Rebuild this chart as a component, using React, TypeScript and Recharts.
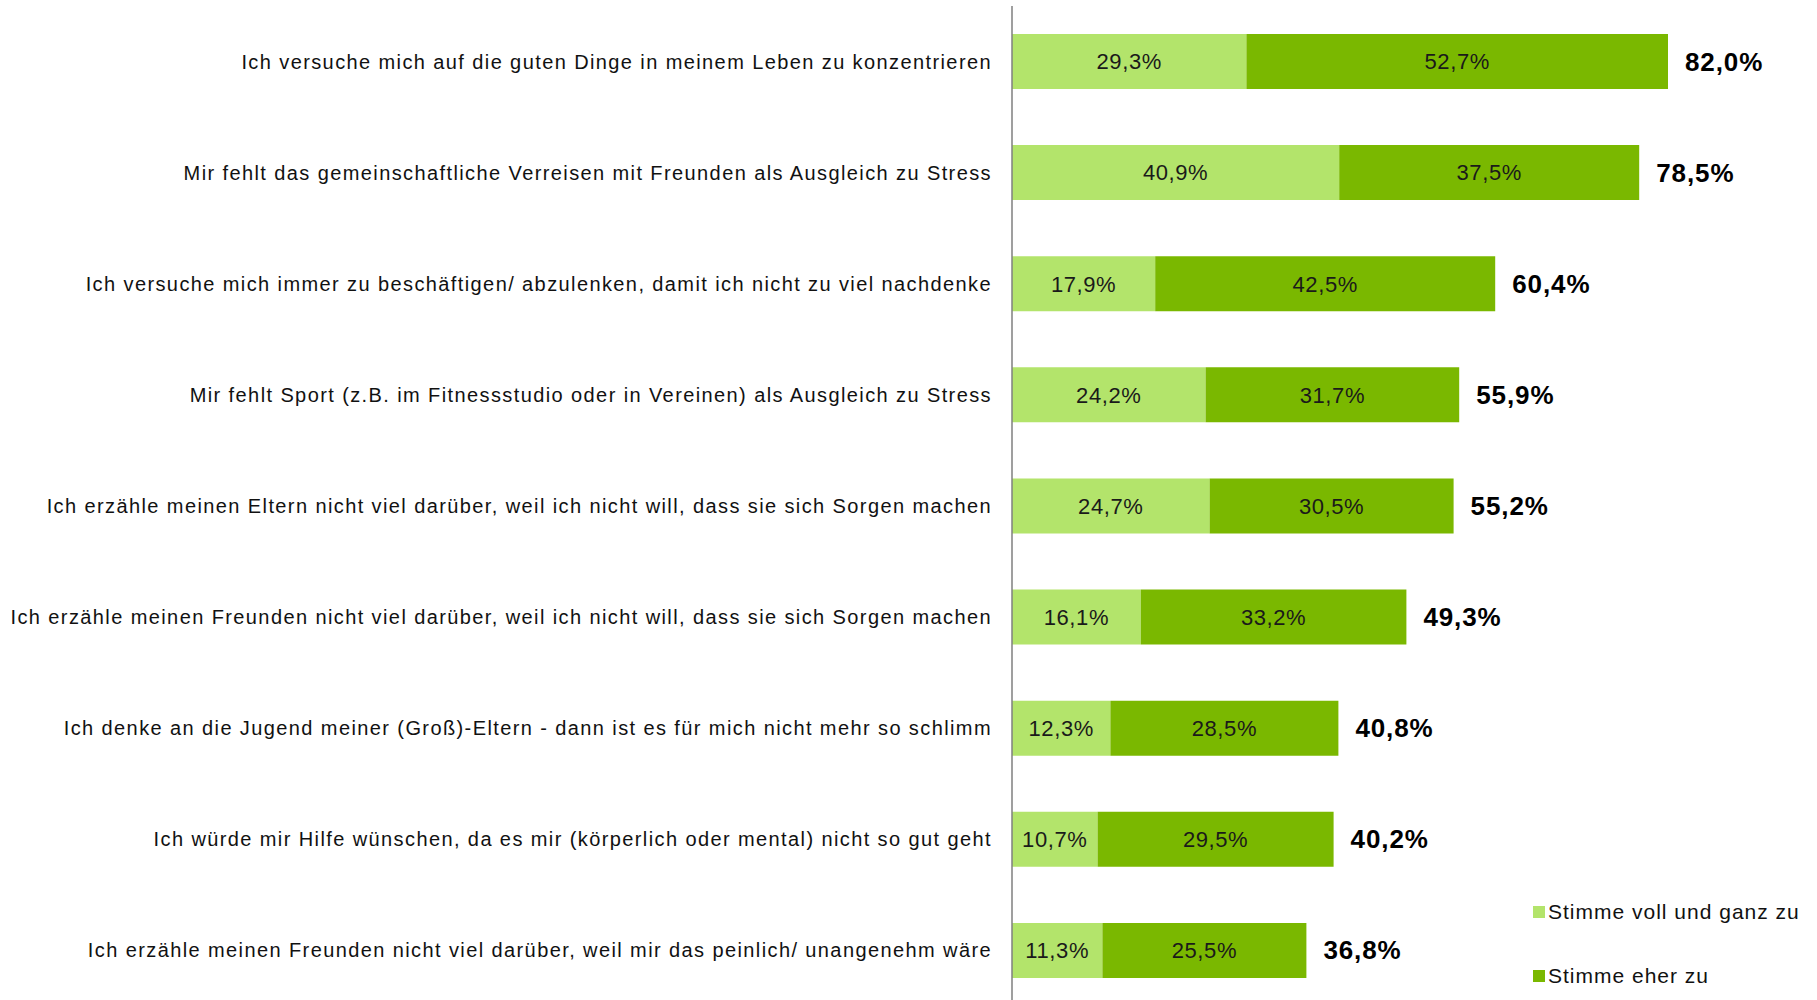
import { Bar, BarChart, LabelList, XAxis, YAxis } from "recharts";

const statements = [
  "Ich versuche mich auf die guten Dinge in meinem Leben zu konzentrieren",
  "Mir fehlt das gemeinschaftliche Verreisen mit Freunden als Ausgleich zu Stress",
  "Ich versuche mich immer zu beschäftigen/ abzulenken, damit ich nicht zu viel nachdenke",
  "Mir fehlt Sport (z.B. im Fitnessstudio oder in Vereinen) als Ausgleich zu Stress",
  "Ich erzähle meinen Eltern nicht viel darüber, weil ich nicht will, dass sie sich Sorgen machen",
  "Ich erzähle meinen Freunden nicht viel darüber, weil ich nicht will, dass sie sich Sorgen machen",
  "Ich denke an die Jugend meiner (Groß)-Eltern - dann ist es für mich nicht mehr so schlimm",
  "Ich würde mir Hilfe wünschen, da es mir (körperlich oder mental) nicht so gut geht",
  "Ich erzähle meinen Freunden nicht viel darüber, weil mir das peinlich/ unangenehm wäre",
];

const vollUndGanz = [29.3, 40.9, 17.9, 24.2, 24.7, 16.1, 12.3, 10.7, 11.3];
const eherZu = [52.7, 37.5, 42.5, 31.7, 30.5, 33.2, 28.5, 29.5, 25.5];
const totals = [82.0, 78.5, 60.4, 55.9, 55.2, 49.3, 40.8, 40.2, 36.8];

const seriesNames = ["Stimme voll und ganz zu", "Stimme eher zu"];
const colors = ["#b3e46b", "#7ab800"];

const data = statements.map((s, i) => ({
  name: s,
  voll: vollUndGanz[i],
  eher: eherZu[i],
  total: totals[i],
}));

const fmt = (v: number) => v.toFixed(1).replace(".", ",") + "%";
const font = "'Liberation Sans', Arial, sans-serif";

function YTick(props: any) {
  const { x, y, payload } = props;
  return (
    <text
      x={x}
      y={y}
      textAnchor="end"
      dominantBaseline="central"
      fontSize={20}
      letterSpacing={1.4}
      fill="#111"
      fontFamily={font}
    >
      {payload.value}
    </text>
  );
}

function TotalLabel(props: any) {
  const { x, y, width, height, index } = props;
  return (
    <text
      x={x + width + 17}
      y={y + height / 2}
      dominantBaseline="central"
      fontSize={26}
      letterSpacing={0.9}
      fontWeight="bold"
      fill="#000"
      fontFamily={font}
    >
      {fmt(totals[index])}
    </text>
  );
}

export default function App() {
  return (
    <div
      style={{
        position: "fixed",
        left: 0,
        top: 0,
        width: 1817,
        height: 1000,
        overflow: "hidden",
        background: "#fff",
        fontFamily: font,
      }}
    >
      <BarChart
        width={1817}
        height={1006}
        data={data}
        layout="vertical"
        margin={{ top: 6, right: 5, bottom: 0, left: 0 }}
        barSize={55}
      >
        <XAxis type="number" domain={[0, 100]} hide />
        <YAxis
          type="category"
          dataKey="name"
          width={1012}
          tickLine={false}
          tickSize={0}
          tickMargin={20}
          axisLine={{ stroke: "#7f7f7f", strokeWidth: 1.5 }}
          tick={<YTick />}
          interval={0}
        />
        <Bar dataKey="voll" stackId="a" fill={colors[0]} isAnimationActive={false}>
          <LabelList
            dataKey="voll"
            position="center"
            formatter={(v: any) => fmt(Number(v))}
            fill="#1a1a1a"
            fontSize={22}
            letterSpacing={0.6}
            fontFamily={font}
          />
        </Bar>
        <Bar dataKey="eher" stackId="a" fill={colors[1]} isAnimationActive={false}>
          <LabelList
            dataKey="eher"
            position="center"
            formatter={(v: any) => fmt(Number(v))}
            fill="#1a1a1a"
            fontSize={22}
            letterSpacing={0.6}
            fontFamily={font}
          />
          <LabelList dataKey="total" content={<TotalLabel />} />
        </Bar>
      </BarChart>
      <div
        style={{
          position: "absolute",
          left: 1533,
          top: 898,
          fontSize: 21,
          letterSpacing: 1,
          color: "#111",
        }}
      >
        {seriesNames.map((n, i) => (
          <div
            key={n}
            style={{ display: "flex", alignItems: "center", height: 28, marginBottom: i === 0 ? 36 : 0 }}
          >
            <span style={{ width: 12, height: 12, background: colors[i], marginRight: 3 }} />
            <span>{n}</span>
          </div>
        ))}
      </div>
    </div>
  );
}
